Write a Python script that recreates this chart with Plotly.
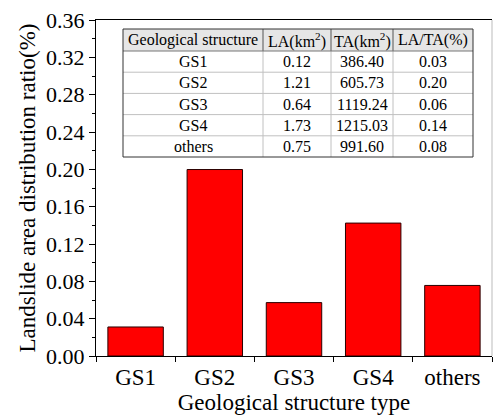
import plotly.graph_objects as go

# Geological structure statistics
structures = ["GS1", "GS2", "GS3", "GS4", "others"]
landslide_area = [0.12, 1.21, 0.64, 1.73, 0.75]          # LA, km²
total_area = [386.40, 605.73, 1119.24, 1215.03, 991.60]   # TA, km²
area_ratio = [0.0311, 0.1998, 0.0572, 0.1424, 0.0756]     # LA/TA, %

header_labels = ["Geological structure", "LA(km<sup>2</sup>)",
                 "TA(km<sup>2</sup>)", "LA/TA(%)"]
y_ticks = [0.00, 0.04, 0.08, 0.12, 0.16, 0.20, 0.24, 0.28, 0.32, 0.36]

serif = "Liberation Serif"

W, H = 493, 415
L, R, T, B = 96, 1, 20, 59
plot_w = W - L - R
plot_h = H - T - B


def px_x(px):
    return (px - L) / plot_w


def px_y(py):
    return (H - B - py) / plot_h


fig = go.Figure()

fig.add_trace(go.Bar(
    x=structures,
    y=area_ratio,
    width=0.7,
    marker=dict(color="#ff0000", line=dict(color="#2a0000", width=1)),
    showlegend=False,
))

# Summary table inset (built from shapes and annotations, pixel layout)
col_edges = [123, 263, 331, 393, 473]
row_top, header_bottom, row_h = 29, 51, 21.2
rows = [[s, f"{a:.2f}", f"{t:.2f}", f"{r:.2f}"]
        for s, a, t, r in zip(structures, landslide_area, total_area, area_ratio)]
table_bottom = header_bottom + row_h * len(rows)

shapes = []
annotations = []

# white body and grey header
shapes.append(dict(type="rect", xref="paper", yref="paper", layer="above",
                   x0=px_x(col_edges[0]), x1=px_x(col_edges[-1]),
                   y0=px_y(table_bottom), y1=px_y(row_top),
                   fillcolor="white", line=dict(width=0)))
shapes.append(dict(type="rect", xref="paper", yref="paper", layer="above",
                   x0=px_x(col_edges[0]), x1=px_x(col_edges[-1]),
                   y0=px_y(header_bottom), y1=px_y(row_top),
                   fillcolor="#e6e6e6", line=dict(width=0)))
# inner grid lines
for i in range(1, len(rows)):
    yy = header_bottom + row_h * i
    shapes.append(dict(type="line", xref="paper", yref="paper", layer="above",
                       x0=px_x(col_edges[0]), x1=px_x(col_edges[-1]),
                       y0=px_y(yy), y1=px_y(yy),
                       line=dict(color="#c0c0c0", width=1)))
for xe in col_edges[1:-1]:
    shapes.append(dict(type="line", xref="paper", yref="paper", layer="above",
                       x0=px_x(xe), x1=px_x(xe),
                       y0=px_y(header_bottom), y1=px_y(table_bottom),
                       line=dict(color="#c0c0c0", width=1)))
    shapes.append(dict(type="line", xref="paper", yref="paper", layer="above",
                       x0=px_x(xe), x1=px_x(xe),
                       y0=px_y(header_bottom), y1=px_y(row_top),
                       line=dict(color="#555555", width=1)))
shapes.append(dict(type="line", xref="paper", yref="paper", layer="above",
                   x0=px_x(col_edges[0]), x1=px_x(col_edges[-1]),
                   y0=px_y(header_bottom), y1=px_y(header_bottom),
                   line=dict(color="#777777", width=1)))
# outer border
shapes.append(dict(type="rect", xref="paper", yref="paper", layer="above",
                   x0=px_x(col_edges[0]), x1=px_x(col_edges[-1]),
                   y0=px_y(table_bottom), y1=px_y(row_top),
                   line=dict(color="#333333", width=1)))

def cell_text(text, c, yc):
    annotations.append(dict(
        xref="paper", yref="paper", showarrow=False,
        x=px_x((col_edges[c] + col_edges[c + 1]) / 2), y=px_y(yc),
        xanchor="center", yanchor="middle", text=text,
        font=dict(family=serif, size=16, color="black")))

for c, lab in enumerate(header_labels):
    cell_text(lab, c, (row_top + header_bottom) / 2)
for r, row in enumerate(rows):
    for c, val in enumerate(row):
        cell_text(val, c, header_bottom + row_h * (r + 0.5))

# right frame edge
shapes.append(dict(type="line", xref="paper", yref="paper", x0=1, x1=1, y0=0, y1=1,
                   line=dict(color="#bbbbbb", width=1)))

fig.update_layout(
    width=W,
    height=H,
    margin=dict(l=L, r=R, t=T, b=B),
    paper_bgcolor="white",
    plot_bgcolor="white",
    bargap=0.3,
    font=dict(family=serif, color="black"),
    xaxis=dict(
        title=dict(text="Geological structure type", font=dict(family=serif, size=23), standoff=2),
        tickfont=dict(family=serif, size=23),
        showline=True, linecolor="black", linewidth=1, mirror=True,
        ticks="outside", ticklen=5, tickcolor="black", tickson="boundaries",
        showgrid=False,
    ),
    yaxis=dict(
        title=dict(text="Landslide area distribution ratio(%)", font=dict(family=serif, size=23), standoff=4),
        tickfont=dict(family=serif, size=22),
        range=[0, 0.36],
        tickvals=y_ticks,
        tickformat=".2f",
        showline=True, linecolor="black", linewidth=1,
        ticks="outside", ticklen=6, tickcolor="black",
        minor=dict(ticks="outside", ticklen=3, tickcolor="black", dtick=0.02, showgrid=False),
        showgrid=False, zeroline=False,
    ),
    shapes=shapes,
    annotations=annotations,
)

fig.write_html("out.html")
